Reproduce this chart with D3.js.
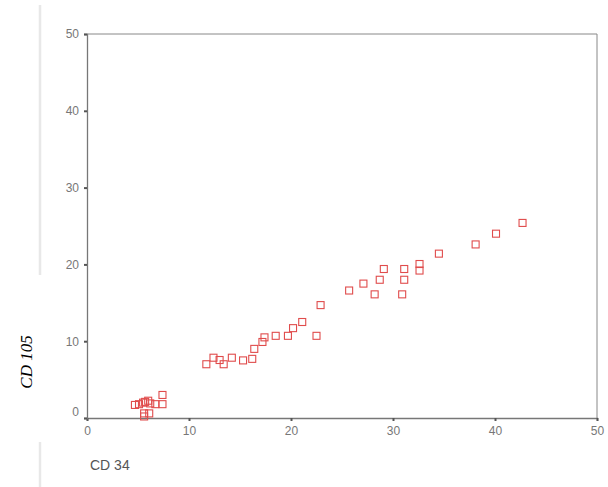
<!DOCTYPE html>
<html>
<head>
<meta charset="utf-8">
<script src="https://cdn.jsdelivr.net/npm/d3@7"></script>
<style>
  body { margin: 0; background: #fff; }
  .tick text { fill: #777; font-family: "Liberation Sans", Arial, sans-serif; font-size: 12px; }
</style>
</head>
<body>
<div id="chart"></div>
<script>
// CD 34 (x) vs CD 105 (y)
const cd34 = [4.7, 5.1, 5.5, 5.7, 6.0, 6.2, 6.7, 7.4, 7.4, 5.6, 6.1, 5.6,
  11.7, 12.4, 13.0, 13.4, 14.2, 15.3, 16.2, 16.4, 17.2, 17.4, 18.5, 19.7, 20.2, 21.1, 22.5, 22.9,
  25.7, 27.1, 28.2, 28.7, 29.1, 30.9, 31.1, 31.1, 32.6, 32.6, 34.5, 38.1, 40.1, 42.7];
const cd105 = [1.7, 1.8, 2.0, 2.1, 2.25, 1.9, 1.8, 3.0, 1.8, 0.6, 0.6, 0.2,
  7.0, 7.85, 7.55, 7.0, 7.85, 7.5, 7.7, 9.0, 9.9, 10.5, 10.7, 10.7, 11.7, 12.5, 10.7, 14.7,
  16.6, 17.5, 16.1, 18.0, 19.4, 16.1, 18.0, 19.4, 19.2, 20.05, 21.4, 22.6, 24.0, 25.4];
const xTicks = [0, 10, 20, 30, 40, 50];
const yTicks = [0, 10, 20, 30, 40, 50];

const width = 608, height = 487;
const margin = { top: 34, right: 11, bottom: 69, left: 87 };

const svg = d3.select('#chart').append('svg')
  .attr('width', width)
  .attr('height', height);

// faint scan edge lines on the left
svg.append('line').attr('x1', 40).attr('x2', 40).attr('y1', 5).attr('y2', 275)
  .attr('stroke', '#e8e8e8').attr('stroke-width', 2.5);
svg.append('line').attr('x1', 40).attr('x2', 40).attr('y1', 442).attr('y2', 487)
  .attr('stroke', '#e8e8e8').attr('stroke-width', 2.5);

const x = d3.scaleLinear().domain([0, 50]).range([margin.left, width - margin.right]);
const y = d3.scaleLinear().domain([0, 50]).range([height - margin.bottom, margin.top]);

// frame top and right
svg.append('path')
  .attr('d', `M${x(0)},${y(50)}H${x(50)}V${y(0)}`)
  .attr('fill', 'none')
  .attr('stroke', '#888')
  .attr('stroke-width', 1);

const xAxis = svg.append('g')
  .attr('transform', `translate(0,${y(0)})`)
  .call(d3.axisBottom(x).tickValues(xTicks).tickSize(3).tickPadding(5));
const yAxis = svg.append('g')
  .attr('transform', `translate(${x(0)},0)`)
  .call(d3.axisLeft(y).tickValues(yTicks).tickSize(3).tickPadding(5));

[xAxis, yAxis].forEach(g => {
  g.select('.domain').attr('stroke', '#777').attr('stroke-width', 1.3);
  g.selectAll('.tick line').attr('stroke', '#555').attr('stroke-width', 2);
});
yAxis.selectAll('.tick').filter(d => d === 0).select('text').attr('dy', '-0.25em');

// points
const pts = cd34.map((v, i) => ({ x: v, y: cd105[i] }));
const s = 7;
svg.append('g').selectAll('rect')
  .data(pts)
  .join('rect')
  .attr('x', d => x(d.x) - s / 2)
  .attr('y', d => y(d.y) - s / 2)
  .attr('width', s)
  .attr('height', s)
  .attr('fill', 'none')
  .attr('stroke', '#e04c4c')
  .attr('stroke-width', 1.1);

// axis titles
svg.append('text')
  .attr('x', 90).attr('y', 470)
  .attr('fill', '#555')
  .style('font-family', '"Liberation Sans", Arial, sans-serif')
  .style('font-size', '14px')
  .text('CD 34');

svg.append('text')
  .attr('transform', 'translate(32,362) rotate(-90)')
  .attr('text-anchor', 'middle')
  .attr('fill', '#000')
  .style('font-family', '"Liberation Serif", "Times New Roman", serif')
  .style('font-style', 'italic')
  .style('font-size', '17px')
  .text('CD 105');
</script>
</body>
</html>
